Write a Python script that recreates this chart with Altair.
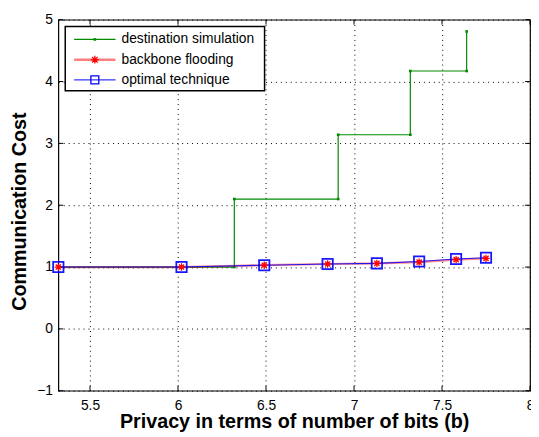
import altair as alt
import pandas as pd

# ---- data ----
series = ["destination simulation", "backbone flooding", "optimal technique"]
x_dest = [5.32, 6.02, 6.32, 6.32, 6.91, 6.91, 7.32, 7.32, 7.64, 7.64]
y_dest = [1.0, 1.0, 1.0, 2.1, 2.1, 3.14, 3.14, 4.17, 4.17, 4.81]
x_opt = [5.32, 6.02, 6.49, 6.85, 7.13, 7.37, 7.58, 7.75]
y_backbone = [1.0, 1.0, 1.03, 1.05, 1.06, 1.08, 1.12, 1.14]
y_optimal = [1.0, 1.0, 1.03, 1.05, 1.06, 1.09, 1.13, 1.15]
x_ticks = [5.5, 6, 6.5, 7, 7.5, 8]
y_ticks = [-1, 0, 1, 2, 3, 4, 5]
x_domain = [min(x_dest + x_opt), 8]
y_domain = [-1, 5]

FONT = "Liberation Sans"
W, H = 478, 376

df_dest = pd.DataFrame({"x": x_dest, "y": y_dest, "i": range(len(x_dest))})
df_bb = pd.DataFrame({"x": x_opt, "y": y_backbone, "i": range(len(x_opt))})
df_opt = pd.DataFrame({"x": x_opt, "y": y_optimal, "i": range(len(x_opt))})
df_xt = pd.DataFrame({"x": x_ticks})
df_yt = pd.DataFrame({"y": y_ticks})

xscale = alt.Scale(domain=x_domain, nice=False, zero=False)
yscale = alt.Scale(domain=y_domain, nice=False, zero=False)
common = dict(ticks=False, domain=False, grid=True, gridDash=[1, 4], gridColor="#000",
              gridOpacity=1, gridWidth=1, labelFontSize=14, labelFont=FONT,
              labelColor="#000", labelFlush=False, titleFontSize=20, titleFont=FONT,
              titleFontWeight="bold", titleColor="#000", titleBaseline="alphabetic",
              titleAlign="center")
xaxis = alt.Axis(values=x_ticks, format="~g", title="Privacy in terms of number of bits (b)",
                 labelPadding=8, titleX=W / 2, titleY=37, **common)
yaxis = alt.Axis(values=y_ticks, format="~g", title="Communication Cost",
                 labelPadding=6, titleAngle=270, titleX=-33, titleY=194, **common)


def X(f="x"):
    return alt.X(f, type="quantitative", scale=xscale, axis=xaxis)


def Y(f="y"):
    return alt.Y(f, type="quantitative", scale=yscale, axis=yaxis)


GREEN, RED, BLUE = "#008a00", "#ff0000", "#0000ff"
STAR = "M-1,0L1,0M0,-1L0,1M-0.7,-0.7L0.7,0.7M-0.7,0.7L0.7,-0.7"

layers = []
# inward tick marks (matlab box style)
layers.append(alt.Chart(df_xt).mark_rule(color="#000", strokeWidth=1).encode(
    x=X(), y=alt.value(H), y2=alt.value(H - 5)))
layers.append(alt.Chart(df_xt).mark_rule(color="#000", strokeWidth=1).encode(
    x=X(), y=alt.value(0), y2=alt.value(5)))
layers.append(alt.Chart(df_yt).mark_rule(color="#000", strokeWidth=1).encode(
    y=Y(), x=alt.value(0), x2=alt.value(5)))
layers.append(alt.Chart(df_yt).mark_rule(color="#000", strokeWidth=1).encode(
    y=Y(), x=alt.value(W), x2=alt.value(W - 5)))

# destination simulation
layers.append(alt.Chart(df_dest).mark_line(color=GREEN, strokeWidth=1.2).encode(
    x=X(), y=Y(), order="i:Q"))
layers.append(alt.Chart(df_dest).mark_point(shape="square", filled=True, color=GREEN,
                                            size=7, opacity=1).encode(x=X(), y=Y()))
# backbone flooding
layers.append(alt.Chart(df_bb).mark_line(color=RED, strokeWidth=2.2, opacity=0.45).encode(
    x=X(), y=Y(), order="i:Q"))
# optimal technique
layers.append(alt.Chart(df_opt).mark_line(color=BLUE, strokeWidth=1.1, opacity=0.85).encode(
    x=X(), y=Y(), order="i:Q"))
layers.append(alt.Chart(df_opt).mark_point(shape="square", filled=False, color=BLUE,
                                           size=110, strokeWidth=1.8, opacity=0.9).encode(
    x=X(), y=Y()))
layers.append(alt.Chart(df_bb).mark_point(shape=STAR, filled=False, color=RED,
                                          size=56, strokeWidth=1.3, opacity=1).encode(
    x=X(), y=Y()))

# legend box
df_leg = pd.DataFrame({"name": series})
layers.append(alt.Chart(df_leg.iloc[:1]).mark_rect(fill="#fff", stroke="#000",
                                                   strokeWidth=1.5).encode(
    x=alt.value(7), x2=alt.value(209), y=alt.value(7), y2=alt.value(72)))
styles = [
    dict(color=GREEN, lw=1.2, lop=1, shape="square", filled=True, size=7, sw=1),
    dict(color=RED, lw=2.5, lop=0.5, shape=STAR, filled=False, size=64, sw=1.3),
    dict(color=BLUE, lw=1, lop=1, shape="square", filled=False, size=64, sw=1.3),
]
for k, (name, st) in enumerate(zip(series, styles)):
    yy = 20 + 20.5 * k
    d = df_leg.iloc[k:k + 1]
    layers.append(alt.Chart(d).mark_rule(color=st["color"], strokeWidth=st["lw"],
                                         opacity=st["lop"]).encode(
        x=alt.value(16), x2=alt.value(58), y=alt.value(yy)))
    layers.append(alt.Chart(d).mark_point(shape=st["shape"], filled=st["filled"],
                                          color=st["color"], size=st["size"],
                                          strokeWidth=st["sw"], opacity=1).encode(
        x=alt.value(37), y=alt.value(yy)))
    layers.append(alt.Chart(d).mark_text(align="left", baseline="middle", fontSize=14,
                                         font=FONT, color="#000").encode(
        x=alt.value(64), y=alt.value(yy), text="name:N"))

chart = alt.layer(*layers).properties(
    width=W, height=H,
    padding={"left": 51, "top": 9, "right": 1, "bottom": 42},
    autosize="none",
).configure_view(stroke="#000", strokeWidth=1.2)

chart.save("out.html", embed_options={"renderer": "svg", "actions": False})
